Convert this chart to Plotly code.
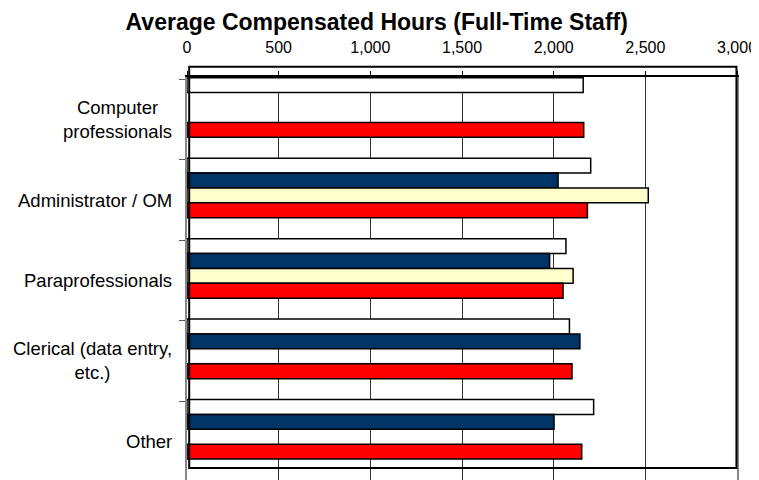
import plotly.graph_objects as go

# categorias (de arriba hacia abajo)
categories = ["Computer professionals", "Administrator / OM", "Paraprofessionals",
              "Clerical (data entry, etc.)", "Other"]
labels = ["Computer<br>professionals", "Administrator / OM", "Paraprofessionals",
          "Clerical (data entry,<br>etc.)", "Other"]

series_names = ["Series 1", "Series 2", "Series 3", "Series 4"]
s1 = [2161, 2202, 2067, 2086, 2218]
s2 = [None, 2024, 1978, 2143, 2002]
s3 = [None, 2516, 2106, None, None]
s4 = [2164, 2184, 2051, 2100, 2153]

x_ticks = [0, 500, 1000, 1500, 2000, 2500, 3000]

colors = ["#FFFFFF", "#003366", "#FFFFCC", "#FF0000"]
FONT = "Liberation Sans, Arial, sans-serif"

fig = go.Figure()

bar_w = 0.185
for i, (name, vals, col) in enumerate(zip(series_names, [s1, s2, s3, s4], colors)):
    fig.add_trace(go.Bar(
        y=categories, x=vals, name=name, orientation="h",
        marker=dict(color=col, line=dict(color="black", width=1.5)),
        width=bar_w, offset=-0.52 + i * bar_w,
        showlegend=False,
    ))

# etiquetas de categoria centradas (multilinea)
for cat, lab in zip(categories, labels):
    fig.add_annotation(
        x=0, xref="paper", y=cat, yref="y", text=lab,
        xanchor="right", xshift=-13, align="center", showarrow=False,
        font=dict(family=FONT, size=18.5, color="black"),
    )

# marco del area de trazado
fig.add_shape(type="rect", xref="paper", yref="paper",
              x0=0.004, x1=0.999, y0=0.0298, y1=1.0256,
              line=dict(color="black", width=2), fillcolor="rgba(0,0,0,0)", layer="above")

fig.update_layout(
    width=751, height=472,
    margin=dict(l=179, r=22, t=69, b=0),
    paper_bgcolor="white", plot_bgcolor="white",
    title=dict(text="<b>Average Compensated Hours (Full-Time Staff)</b>",
               x=0.491, xanchor="center", y=1 - 13.5 / 472, yanchor="middle",
               font=dict(family=FONT, size=23, color="black")),
    barmode="group",
    font=dict(family=FONT, size=16, color="black"),
    xaxis=dict(side="top", range=[0, 3000], tickvals=x_ticks, tickformat=",",
               showgrid=True, gridcolor="#333333", gridwidth=1,
               showline=True, linecolor="black", linewidth=1.5,
               ticks="outside", ticklen=4, tickcolor="black",
               ticklabelstandoff=12, zeroline=False,
               tickfont=dict(family=FONT, size=16, color="black")),
    yaxis=dict(type="category", categoryorder="array", categoryarray=categories,
               range=[4.48, -0.529], showticklabels=False,
               tickson="boundaries", ticks="outside", ticklen=6, tickcolor="#555555",
               showline=True, linecolor="#888888", linewidth=2, mirror=True,
               showgrid=False),
)

fig.write_html("out.html")
